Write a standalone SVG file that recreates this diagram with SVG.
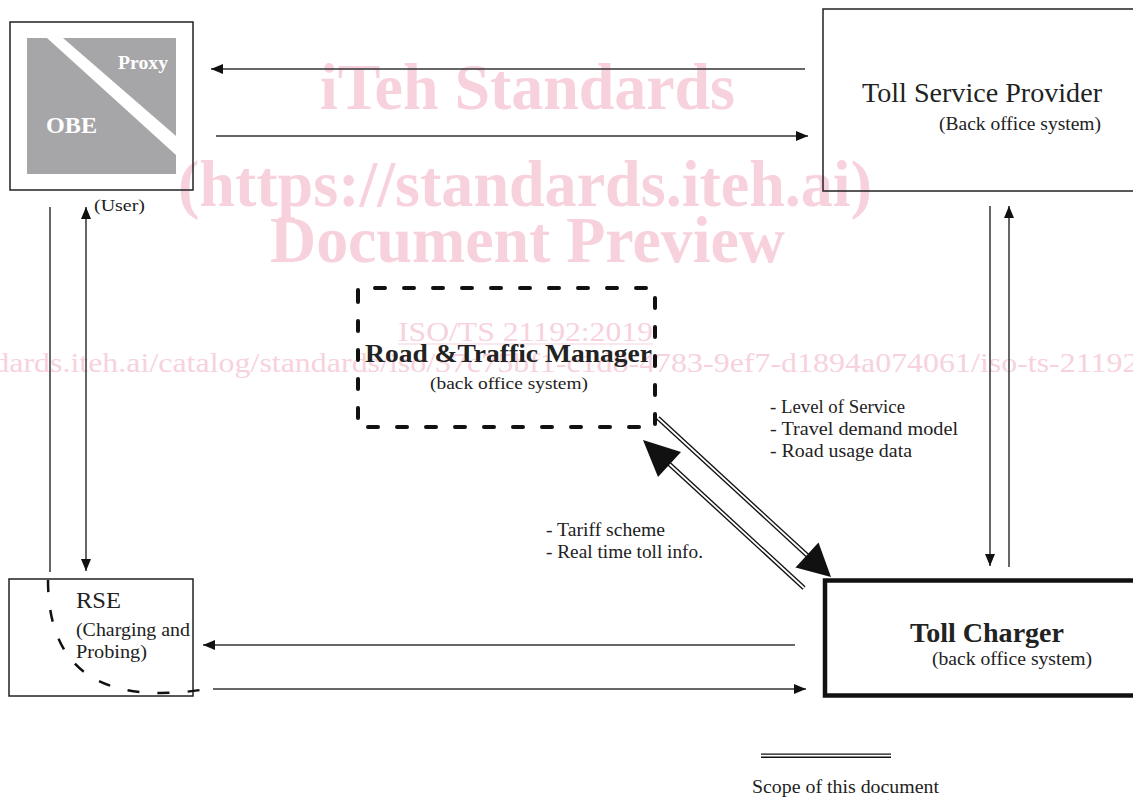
<svg xmlns="http://www.w3.org/2000/svg" width="1133" height="799" viewBox="0 0 1133 799">
  <style>
    .t { font-family: "Liberation Serif", "Times New Roman", serif; fill: #222; }
    .b { font-weight: bold; }
    .wm { font-family: "Liberation Serif", "Times New Roman", serif; fill: #f7d2dd; }
    .box { fill: none; stroke: #222; stroke-width: 1.5; }
    .ln { fill: none; stroke: #333; stroke-width: 1.5; }
    .dbl-o { fill: none; stroke: #111; stroke-width: 4.5; }
    .dbl-i { fill: none; stroke: #fff; stroke-width: 1.8; }
  </style>
  <defs>
    <marker id="ah" markerUnits="userSpaceOnUse" markerWidth="13" markerHeight="11" refX="12" refY="5" orient="auto-start-reverse" viewBox="0 0 13 11">
      <path d="M0,0 L12,5 L0,10 z" fill="#111"/>
    </marker>
  </defs>

  <rect width="1133" height="799" fill="#fff"/>

  <!-- watermark -->
  <g id="watermark">
    <text class="wm b" x="320" y="109" font-size="66" textLength="415" lengthAdjust="spacingAndGlyphs">iTeh Standards</text>
    <text class="wm b" x="178" y="206" font-size="66" textLength="694" lengthAdjust="spacingAndGlyphs">(https://standards.iteh.ai)</text>
    <text class="wm b" x="270" y="262" font-size="66" textLength="515" lengthAdjust="spacingAndGlyphs">Document Preview</text>
    <text class="wm" x="398" y="341" font-size="28" textLength="255" lengthAdjust="spacingAndGlyphs">ISO/TS 21192:2019</text>
    <line x1="398" y1="344" x2="653" y2="344" stroke="#f7d2dd" stroke-width="1.2"/>
    <text class="wm" x="-147" y="372" font-size="28" textLength="1360" lengthAdjust="spacingAndGlyphs">https://standards.iteh.ai/catalog/standards/iso/37c75bf1-c1d8-4783-9ef7-d1894a074061/iso-ts-21192-2019</text>
  </g>

  <!-- OBE / Proxy -->
  <g id="obe">
    <rect class="box" x="10" y="22" width="183" height="168"/>
    <rect x="27" y="38" width="149" height="136" fill="#a6a6a8"/>
    <polygon points="47,38 63,38 176,136 176,155" fill="#fff"/>
    <text class="b" x="118" y="69" font-size="18" fill="#fff" font-family="Liberation Serif, serif" textLength="50" lengthAdjust="spacingAndGlyphs">Proxy</text>
    <text class="b" x="46" y="133" font-size="24" fill="#fff" font-family="Liberation Serif, serif" textLength="51" lengthAdjust="spacingAndGlyphs">OBE</text>
    <text class="t" x="94" y="211" font-size="17" textLength="51" lengthAdjust="spacingAndGlyphs">(User)</text>
  </g>

  <!-- Toll Service Provider -->
  <g id="tsp">
    <rect class="box" x="823" y="9" width="320" height="182"/>
    <text class="t" x="862" y="102" font-size="27" textLength="240" lengthAdjust="spacingAndGlyphs">Toll Service Provider</text>
    <text class="t" x="939" y="130" font-size="18" textLength="162" lengthAdjust="spacingAndGlyphs">(Back office system)</text>
  </g>

  <!-- Road & Traffic Manager -->
  <g id="rtm">
    <path d="M358,300 V288 H655 V427 H358 Z" fill="none" stroke="#111" stroke-width="4" stroke-linecap="round" stroke-dasharray="10 19"/>
    <text class="t b" x="365" y="362" font-size="25" textLength="287" lengthAdjust="spacingAndGlyphs">Road &amp;Traffic Manager</text>
    <text class="t" x="430" y="389" font-size="17" textLength="158" lengthAdjust="spacingAndGlyphs">(back office system)</text>
  </g>

  <!-- RSE -->
  <g id="rse">
    <rect class="box" x="9" y="579" width="184" height="117"/>
    <text class="t" x="76" y="608" font-size="24" textLength="45" lengthAdjust="spacingAndGlyphs">RSE</text>
    <text class="t" x="76" y="636" font-size="18" textLength="114" lengthAdjust="spacingAndGlyphs">(Charging and</text>
    <text class="t" x="76" y="658" font-size="18" textLength="71" lengthAdjust="spacingAndGlyphs">Probing)</text>
  </g>

  <!-- Toll Charger -->
  <g id="toll-charger">
    <rect x="825" y="580.5" width="320" height="115" fill="none" stroke="#111" stroke-width="4.5"/>
    <text class="t b" x="910" y="642" font-size="27" textLength="154" lengthAdjust="spacingAndGlyphs">Toll Charger</text>
    <text class="t" x="932" y="665" font-size="18" textLength="160" lengthAdjust="spacingAndGlyphs">(back office system)</text>
  </g>

  <!-- connectors -->
  <g id="connectors">
    <!-- OBE <-> Toll Service Provider -->
    <line class="ln" x1="805" y1="69" x2="211" y2="69" marker-end="url(#ah)"/>
    <line class="ln" x1="216" y1="136" x2="808" y2="136" marker-end="url(#ah)"/>
    <!-- OBE <-> RSE -->
    <line class="ln" x1="50" y1="207" x2="50" y2="572"/>
    <line class="ln" x1="86" y1="207" x2="86" y2="571" marker-start="url(#ah)" marker-end="url(#ah)"/>
    <!-- Toll Service Provider <-> Toll Charger -->
    <line class="ln" x1="990" y1="206" x2="990" y2="566" marker-end="url(#ah)"/>
    <line class="ln" x1="1009" y1="567" x2="1009" y2="206" marker-end="url(#ah)"/>
    <!-- Toll Charger <-> RSE -->
    <line class="ln" x1="795" y1="645" x2="203" y2="645" marker-end="url(#ah)"/>
    <line class="ln" x1="213" y1="689" x2="806" y2="689" marker-end="url(#ah)"/>
    <!-- scope boundary around RSE -->
    <path d="M48,580 C48,660 90,693 160,693 C185,693 200,690 213,688" fill="none" stroke="#111" stroke-width="2.5" stroke-dasharray="12 18"/>
    <!-- Road & Traffic Manager <-> Toll Charger (in scope, double lines) -->
    <line class="dbl-o" x1="658" y1="418" x2="809" y2="557"/>
    <line class="dbl-i" x1="658" y1="418" x2="809" y2="557"/>
    <polygon points="831,577 795.5,567.5 818.5,542.5" fill="#111"/>
    <line class="dbl-o" x1="804" y1="588" x2="666" y2="461"/>
    <line class="dbl-i" x1="804" y1="588" x2="666" y2="461"/>
    <polygon points="643,440 681,452 658,477" fill="#111"/>
  </g>

  <!-- data flow labels -->
  <g id="labels">
    <text class="t" x="770" y="413" font-size="18" textLength="135" lengthAdjust="spacingAndGlyphs">- Level of Service</text>
    <text class="t" x="770" y="435" font-size="18" textLength="188" lengthAdjust="spacingAndGlyphs">- Travel demand model</text>
    <text class="t" x="770" y="457" font-size="18" textLength="142" lengthAdjust="spacingAndGlyphs">- Road usage data</text>
    <text class="t" x="546" y="536" font-size="18" textLength="119" lengthAdjust="spacingAndGlyphs">- Tariff scheme</text>
    <text class="t" x="546" y="558" font-size="18" textLength="157" lengthAdjust="spacingAndGlyphs">- Real time toll info.</text>
  </g>

  <!-- legend -->
  <g id="legend">
    <line class="dbl-o" x1="761" y1="755.7" x2="891" y2="755.7"/>
    <line class="dbl-i" x1="761" y1="755.7" x2="891" y2="755.7"/>
    <text class="t" x="752" y="793" font-size="18" textLength="187" lengthAdjust="spacingAndGlyphs">Scope of this document</text>
  </g>
</svg>
